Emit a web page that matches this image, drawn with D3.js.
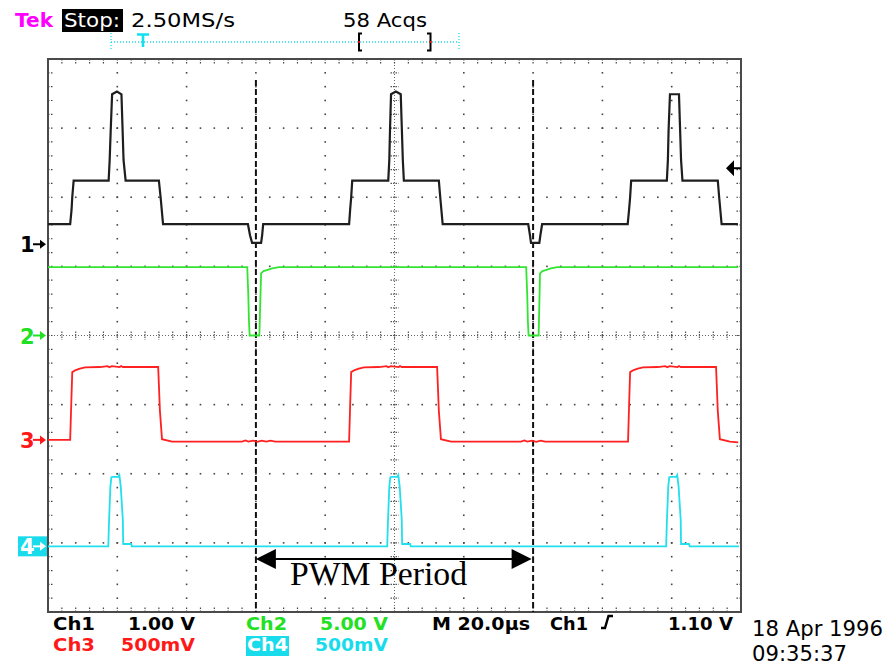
<!DOCTYPE html>
<html>
<head>
<meta charset="utf-8">
<script src="https://cdn.jsdelivr.net/npm/d3@7"></script>
<style>
  html, body { margin: 0; padding: 0; background: #fff; }
  svg { display: block; }
</style>
</head>
<body>
<svg id="scope" width="893" height="666"></svg>
<script>
// ---- acquisition settings ----
const channelNames = ["Ch1", "Ch2", "Ch3", "Ch4"];
const voltsPerDiv = [1.0, 5.0, 0.5, 0.5];
const scaleLabels = ["1.00 V", "5.00 V", "500mV", "500mV"];
const groundDiv = [1.32, 0, -1.51, -3.05];   // ground marker position, in divisions from centre
const timePerDiv = 20;                       // µs
const timebaseLabel = "M 20.0µs";
const triggerLevel = 1.10;                   // V on Ch1
const triggerLabel = "1.10 V";
const sampleRateLabel = "2.50MS/s";
const acqLabel = "58 Acqs";
const dateLines = ["18 Apr 1996", "09:35:37"];
const pwmMarkers = [-40, 40];                // µs, one PWM period
const pwmLabel = "PWM Period";

// ---- traces: [time µs, volts] ----
const ch1Trace = [
  [-100, 0.29], [-93.6, 0.29], [-93.2, 0.50], [-93.0, 0.68], [-92.6, 0.92],
  [-82.5, 0.92], [-82.2, 1.22], [-81.9, 1.65], [-81.5, 2.17], [-80.1, 2.21], [-78.8, 2.17],
  [-78.5, 1.70], [-78.2, 1.22], [-77.6, 0.92], [-68.0, 0.92], [-67.5, 0.68], [-66.8, 0.29],
  [-42.3, 0.29], [-41.7, 0.13], [-41.1, 0.02], [-38.5, 0.02], [-38.2, 0.13], [-37.9, 0.29],
  [-13.1, 0.29], [-12.8, 0.50], [-12.5, 0.68], [-12.2, 0.92],
  [-1.8, 0.92], [-1.5, 1.22], [-1.3, 1.65], [-1.0, 2.17], [0.4, 2.21], [1.8, 2.17],
  [2.1, 1.70], [2.4, 1.22], [2.7, 0.92], [12.8, 0.92], [13.2, 0.68], [13.9, 0.29],
  [38.6, 0.29], [39.1, 0.13], [39.4, 0.02], [41.8, 0.02], [42.1, 0.13], [42.6, 0.29],
  [67.3, 0.29], [67.7, 0.50], [68.0, 0.68], [68.3, 0.92],
  [78.6, 0.92], [78.9, 1.22], [79.1, 1.65], [79.5, 2.17], [82.1, 2.17],
  [82.4, 1.70], [82.7, 1.22], [83.1, 0.92], [93.3, 0.92], [93.7, 0.68], [94.4, 0.29],
  [99.1, 0.29]
];
const ch2Trace = [
  [-100, 4.95], [-42.5, 4.95], [-42.2, 3.0], [-42.0, 1.0], [-41.8, 0], [-39.0, 0],
  [-38.5, 4.5], [-37.8, 4.66], [-36.4, 4.76], [-35.3, 4.85], [-33.4, 4.95],
  [38.0, 4.95], [38.3, 3.0], [38.5, 1.0], [38.7, 0], [41.6, 0],
  [42.0, 4.5], [42.7, 4.66], [44.1, 4.76], [45.1, 4.85], [47.0, 4.95], [99.2, 4.95]
];
const ch3Trace = [
  [-100, 0.0], [-93.6, 0.0], [-93.3, 0.25], [-93.0, 0.49], [-92.0, 0.505], [-90.8, 0.515],
  [-89.3, 0.525], [-85.0, 0.527], [-82.8, 0.533], [-82.3, 0.525], [-81.6, 0.533],
  [-79.3, 0.527], [-78.9, 0.534], [-78.4, 0.527], [-68.2, 0.527], [-68.0, 0.40],
  [-67.7, 0.21], [-67.1, 0.005], [-64.2, -0.012], [-44.0, -0.012], [-43.0, -0.004],
  [-42.2, -0.013], [-40.8, -0.005], [-39.6, -0.014], [-38.3, -0.005], [-37.0, -0.013],
  [-35.8, -0.006], [-34.4, -0.013], [-13.1, -0.012], [-12.8, 0.25], [-12.5, 0.49],
  [-11.5, 0.505], [-10.3, 0.515], [-8.8, 0.525], [-4.5, 0.527], [-2.3, 0.533],
  [-1.8, 0.525], [-1.1, 0.533], [1.2, 0.527], [1.6, 0.534], [2.1, 0.527],
  [12.3, 0.527], [12.5, 0.40], [12.8, 0.21], [13.4, 0.005], [16.3, -0.012],
  [36.5, -0.012], [37.5, -0.004], [38.3, -0.013], [39.7, -0.005], [40.9, -0.014],
  [42.2, -0.005], [43.5, -0.013], [67.4, -0.012], [67.7, 0.25], [68.0, 0.49],
  [69.0, 0.505], [70.2, 0.515], [71.7, 0.525], [76.0, 0.527], [78.2, 0.533],
  [78.7, 0.525], [79.4, 0.533], [81.7, 0.527], [82.1, 0.534], [82.6, 0.527],
  [92.8, 0.527], [93.0, 0.40], [93.3, 0.21], [93.9, 0.005], [96.8, -0.012], [99.2, -0.018]
];
const ch4Trace = [
  [-100, 0], [-82.6, 0], [-82.4, 0.17], [-82.0, 0.43], [-81.7, 0.50], [-81.2, 0.503],
  [-79.7, 0.503], [-79.4, 0.516], [-79.0, 0.43], [-78.4, 0.19], [-78.3, 0.017],
  [-76.0, 0.017], [-75.8, 0],
  [-2.1, 0], [-1.9, 0.17], [-1.5, 0.43], [-1.2, 0.50], [-0.7, 0.503],
  [0.8, 0.503], [1.1, 0.516], [1.5, 0.43], [2.1, 0.19], [2.2, 0.017],
  [4.5, 0.017], [4.7, 0],
  [78.4, 0], [78.6, 0.17], [79.0, 0.43], [79.3, 0.50], [79.8, 0.503],
  [81.3, 0.503], [81.6, 0.516], [82.0, 0.43], [82.6, 0.19], [82.7, 0.017],
  [85.0, 0.017], [85.2, 0], [99.4, 0]
];
const traces = [ch1Trace, ch2Trace, ch3Trace, ch4Trace];

// ---- styling ----
const colors = ["#1e1e1e", "#33e533", "#ff2020", "#22dfee"];
const textColors = ["#000000", "#22e022", "#ff1818", "#18dcec"];
const scopeFont = "'DejaVu Sans', sans-serif";

const svg = d3.select("#scope");
const frameL = 48, frameR = 741, frameT = 59, frameB = 612;

const xDiv = d3.scaleLinear().domain([-5, 5]).range([frameL, frameR]);
const yDiv = d3.scaleLinear().domain([-4, 4]).range([frameB, frameT]);
const x = d3.scaleLinear().domain([-5 * timePerDiv, 5 * timePerDiv]).range([frameL, frameR]);
const yCh = c => v => yDiv(groundDiv[c] + v / voltsPerDiv[c]);

// ---- graticule ----
const grid = svg.append("g");
const minorH = d3.range(-25, 26).map(i => i / 5);      // every 0.2 div horizontally
const minorV = d3.range(-20, 21).map(i => i / 5);      // every 0.2 div vertically

// dotted major lines
[-4, -3, -2, -1, 1, 2, 3, 4].forEach(k => {
  grid.selectAll(null).data(minorV.filter(v => v > -4 && v < 4)).enter().append("rect")
    .attr("x", xDiv(k) - 0.8).attr("y", d => yDiv(d) - 0.8)
    .attr("width", 1.6).attr("height", 1.6).attr("fill", "#444");
});
[-3, -2, -1, 1, 2, 3].forEach(k => {
  grid.selectAll(null).data(minorH.filter(v => v > -5 && v < 5)).enter().append("rect")
    .attr("x", d => xDiv(d) - 0.8).attr("y", yDiv(k) - 0.8)
    .attr("width", 1.6).attr("height", 1.6).attr("fill", "#444");
});

// centre cross with fine dotting and minor ticks
grid.append("line").attr("x1", frameL).attr("x2", frameR).attr("y1", yDiv(0)).attr("y2", yDiv(0))
  .attr("stroke", "#666").attr("stroke-width", 1).attr("stroke-dasharray", "1,2");
grid.append("line").attr("x1", xDiv(0)).attr("x2", xDiv(0)).attr("y1", frameT).attr("y2", frameB)
  .attr("stroke", "#666").attr("stroke-width", 1).attr("stroke-dasharray", "1,2");
grid.selectAll(null).data(minorH).enter().append("line")
  .attr("x1", d => xDiv(d)).attr("x2", d => xDiv(d))
  .attr("y1", yDiv(0) - 4).attr("y2", yDiv(0) + 4)
  .attr("stroke", "#555").attr("stroke-width", 1.2).attr("stroke-dasharray", "1.5,1");
grid.selectAll(null).data(minorV).enter().append("line")
  .attr("y1", d => yDiv(d)).attr("y2", d => yDiv(d))
  .attr("x1", xDiv(0) - 4).attr("x2", xDiv(0) + 4)
  .attr("stroke", "#555").attr("stroke-width", 1.2).attr("stroke-dasharray", "1.5,1");

// edge ticks
grid.selectAll(null).data(minorH).enter().append("line")
  .attr("x1", d => xDiv(d)).attr("x2", d => xDiv(d)).attr("y1", frameT).attr("y2", frameT + 5)
  .attr("stroke", "#444").attr("stroke-width", 1.2).attr("stroke-dasharray", "1.5,1.5");
grid.selectAll(null).data(minorH).enter().append("line")
  .attr("x1", d => xDiv(d)).attr("x2", d => xDiv(d)).attr("y1", frameB).attr("y2", frameB - 5)
  .attr("stroke", "#444").attr("stroke-width", 1.2).attr("stroke-dasharray", "1.5,1.5");
grid.selectAll(null).data(minorV).enter().append("line")
  .attr("y1", d => yDiv(d)).attr("y2", d => yDiv(d)).attr("x1", frameL).attr("x2", frameL + 5)
  .attr("stroke", "#444").attr("stroke-width", 1.2).attr("stroke-dasharray", "1.5,1.5");
grid.selectAll(null).data(minorV).enter().append("line")
  .attr("y1", d => yDiv(d)).attr("y2", d => yDiv(d)).attr("x1", frameR).attr("x2", frameR - 5)
  .attr("stroke", "#444").attr("stroke-width", 1.2).attr("stroke-dasharray", "1.5,1.5");

// frame
grid.append("rect").attr("x", frameL).attr("y", frameT).attr("width", frameR - frameL).attr("height", frameB - frameT)
  .attr("fill", "none").attr("stroke", "#4a4a4a").attr("stroke-width", 2);

// ---- PWM period markers ----
const ann = svg.append("g");
ann.selectAll(null).data(pwmMarkers).enter().append("line")
  .attr("x1", d => x(d)).attr("x2", d => x(d)).attr("y1", 80).attr("y2", frameB)
  .attr("stroke", "#111").attr("stroke-width", 2).attr("stroke-dasharray", "6,3");

// ---- traces ----
const line = c => d3.line().x(d => x(d[0])).y(d => yCh(c)(d[1]));
svg.append("g").selectAll("path").data(traces).enter().append("path")
  .attr("d", (d, i) => line(i)(d))
  .attr("fill", "none")
  .attr("stroke", (d, i) => colors[i])
  .attr("stroke-width", (d, i) => i === 0 ? 2.2 : 1.8)
  .attr("stroke-linejoin", "miter");

// PWM period arrow + label
const ay = 559;
const xa = x(pwmMarkers[0]), xb = x(pwmMarkers[1]) - 1.5;
ann.append("line").attr("x1", xa + 10).attr("x2", xb - 10).attr("y1", ay).attr("y2", ay)
  .attr("stroke", "#000").attr("stroke-width", 2);
ann.append("path").attr("d", `M${xa},${ay} L${xa + 20},${ay - 10} L${xa + 20},${ay + 10} Z`).attr("fill", "#000");
ann.append("path").attr("d", `M${xb},${ay} L${xb - 20},${ay - 10} L${xb - 20},${ay + 10} Z`).attr("fill", "#000");
ann.append("text").attr("x", 290).attr("y", 585)
  .attr("font-family", "'Liberation Serif', 'Times New Roman', serif").attr("font-size", 33)
  .attr("textLength", 177).attr("lengthAdjust", "spacingAndGlyphs")
  .text(pwmLabel);

// ---- ground markers ----
const gm = svg.append("g");
channelNames.forEach((name, c) => {
  const gy = yDiv(groundDiv[c]);
  const fg = c === 3 ? "#fff" : textColors[c];
  if (c === 3) {
    gm.append("rect").attr("x", 18).attr("y", gy - 10).attr("width", 29).attr("height", 20)
      .attr("fill", textColors[3]);
  }
  gm.append("text").attr("x", 20).attr("y", gy + 8)
    .attr("font-family", scopeFont).attr("font-size", 21).attr("font-weight", "bold").attr("fill", fg)
    .text(String(c + 1));
  gm.append("line").attr("x1", 33).attr("x2", 42).attr("y1", gy).attr("y2", gy)
    .attr("stroke", fg).attr("stroke-width", 2);
  gm.append("path").attr("d", `M46,${gy} L40,${gy - 4.5} L40,${gy + 4.5} Z`).attr("fill", fg);
});

// trigger level indicator on Ch1
const ty = yCh(0)(triggerLevel);
gm.append("path").attr("d", `M726,${ty} L734,${ty - 8} L734,${ty + 8} Z`).attr("fill", "#000");
gm.append("line").attr("x1", 733).attr("x2", frameR).attr("y1", ty).attr("y2", ty)
  .attr("stroke", "#000").attr("stroke-width", 2);

// ---- header ----
const hdr = svg.append("g").attr("font-family", scopeFont);
hdr.append("text").attr("x", 15).attr("y", 27).attr("font-size", 19).attr("font-weight", "bold")
  .attr("fill", "#ff00ff").attr("textLength", 38).attr("lengthAdjust", "spacingAndGlyphs").text("Tek");
hdr.append("rect").attr("x", 62).attr("y", 9).attr("width", 61).attr("height", 23).attr("fill", "#000");
hdr.append("text").attr("x", 64).attr("y", 27).attr("font-size", 19).attr("fill", "#fff")
  .attr("textLength", 56).attr("lengthAdjust", "spacingAndGlyphs").text("Stop:");
hdr.append("text").attr("x", 131).attr("y", 27).attr("font-size", 19).attr("fill", "#000")
  .attr("textLength", 104).attr("lengthAdjust", "spacingAndGlyphs").text(sampleRateLabel);
hdr.append("text").attr("x", 343).attr("y", 27).attr("font-size", 19).attr("fill", "#000")
  .attr("textLength", 84).attr("lengthAdjust", "spacingAndGlyphs").text(acqLabel);

// record / trigger position bar
const cyanBar = "#11e0ee";
hdr.append("line").attr("x1", 111).attr("x2", 459).attr("y1", 42).attr("y2", 42)
  .attr("stroke", cyanBar).attr("stroke-width", 1.3).attr("stroke-dasharray", "1,2");
[111, 459].forEach(bx => hdr.append("line").attr("x1", bx).attr("x2", bx).attr("y1", 33).attr("y2", 51)
  .attr("stroke", cyanBar).attr("stroke-width", 1.3).attr("stroke-dasharray", "1,2"));
hdr.append("path").attr("d", "M137,34.5 H149 M143,34.5 V47").attr("stroke", cyanBar)
  .attr("stroke-width", 2.6).attr("fill", "none");
hdr.append("path").attr("d", "M362,33.5 H359 V50.5 H362").attr("stroke", "#000").attr("stroke-width", 2).attr("fill", "none");
hdr.append("path").attr("d", "M427,33.5 H430.5 V50.5 H427").attr("stroke", "#000").attr("stroke-width", 2).attr("fill", "none");
hdr.append("rect").attr("x", 358).attr("y", 41).attr("width", 2).attr("height", 2).attr("fill", "#f00");
hdr.append("rect").attr("x", 429.5).attr("y", 41).attr("width", 2).attr("height", 2).attr("fill", "#f00");

// ---- readout ----
const ro = svg.append("g").attr("font-family", scopeFont).attr("font-size", 18.5).attr("font-weight", "bold");
const label = (t, px, py, fill, len) => ro.append("text").attr("x", px).attr("y", py).attr("fill", fill)
  .attr("textLength", len).attr("lengthAdjust", "spacingAndGlyphs").text(t);
const row1 = 629.5, row2 = 651;
label(channelNames[0], 53, row1, textColors[0], 42);
label(scaleLabels[0], 128, row1, textColors[0], 67);
label(channelNames[1], 246, row1, textColors[1], 41);
label(scaleLabels[1], 320, row1, textColors[1], 68);
label(timebaseLabel, 432, row1, "#000", 98);
label(channelNames[0], 550, row1, "#000", 38);
ro.append("path").attr("d", `M601,${row1 - 1.5} H605 L608.5,${row1 - 13.5} H613`)
  .attr("stroke", "#000").attr("stroke-width", 2.4).attr("fill", "none");
label(triggerLabel, 668, row1, "#000", 65);
label(channelNames[2], 53, row2, textColors[2], 42);
label(scaleLabels[2], 121, row2, textColors[2], 74);
ro.append("rect").attr("x", 246).attr("y", 636).attr("width", 43).attr("height", 20).attr("fill", textColors[3]);
label(channelNames[3], 247, row2, "#fff", 41);
label(scaleLabels[3], 315, row2, textColors[3], 73);

const dt = svg.append("g").attr("font-family", scopeFont).attr("font-size", 22).attr("fill", "#000");
dt.append("text").attr("x", 752).attr("y", 636)
  .attr("textLength", 131).attr("lengthAdjust", "spacingAndGlyphs").text(dateLines[0]);
dt.append("text").attr("x", 752).attr("y", 661)
  .attr("textLength", 95).attr("lengthAdjust", "spacingAndGlyphs").text(dateLines[1]);
</script>
</body>
</html>
